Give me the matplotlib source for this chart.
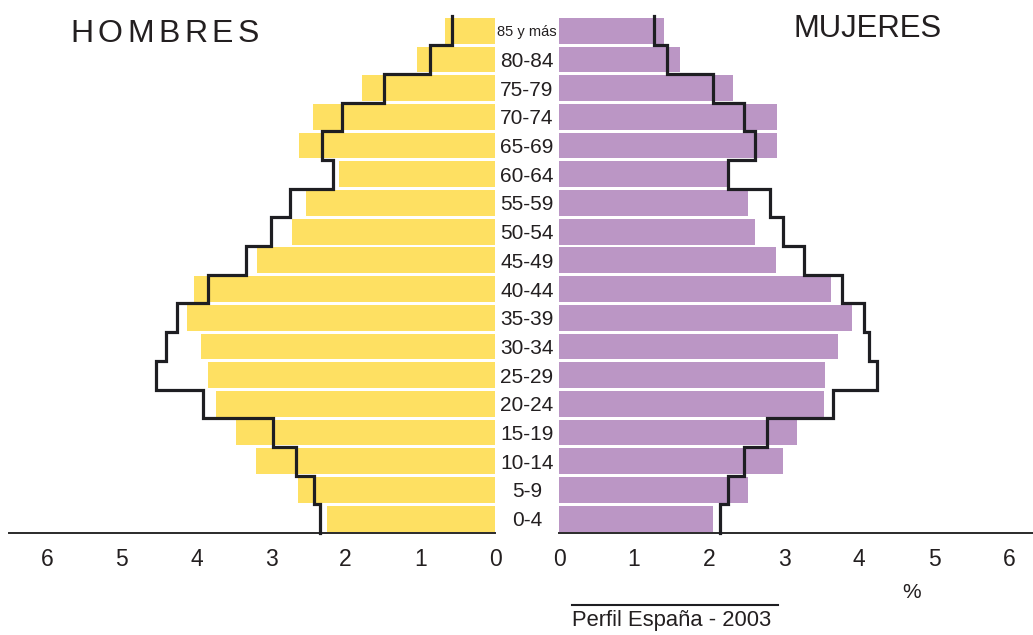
import matplotlib.pyplot as plt
from matplotlib.lines import Line2D
import numpy as np
from matplotlib import font_manager

plt.rcParams['font.family'] = ['Liberation Sans', 'DejaVu Sans']

# grupos de edad, de abajo arriba
grupos = ["0-4", "5-9", "10-14", "15-19", "20-24", "25-29", "30-34", "35-39", "40-44",
          "45-49", "50-54", "55-59", "60-64", "65-69", "70-74", "75-79", "80-84", "85 y más"]

# barras (%)
hombres = [2.25, 2.64, 3.20, 3.47, 3.73, 3.84, 3.94, 4.12, 4.03,
           3.19, 2.72, 2.53, 2.09, 2.62, 2.44, 1.78, 1.04, 0.67]
mujeres = [2.05, 2.52, 2.99, 3.17, 3.53, 3.55, 3.72, 3.91, 3.63,
           2.89, 2.61, 2.52, 2.24, 2.91, 2.91, 2.32, 1.61, 1.40]

# perfil España 2003 (linea escalonada)
esp_hombres = [2.34, 2.42, 2.66, 2.97, 3.91, 4.54, 4.41, 4.26, 3.85,
               3.33, 3.00, 2.75, 2.17, 2.32, 2.05, 1.49, 0.87, 0.57]
esp_mujeres = [2.15, 2.25, 2.46, 2.77, 3.65, 4.24, 4.13, 4.07, 3.77,
               3.27, 2.99, 2.81, 2.25, 2.61, 2.47, 2.05, 1.44, 1.26]

ticks = [0, 1, 2, 3, 4, 5, 6]

AMARILLO = "#fee062"
MORADO = "#bb96c5"
NEGRO = "#1e1e22"
TEXTO = "#231f20"

W, H = 1033, 635
fig = plt.figure(figsize=(W / 100, H / 100), dpi=100)

y0 = (H - 533) / H
hgt = 516.6 / H
ax_h = fig.add_axes([9 / W, y0, 486 / W, hgt])
ax_m = fig.add_axes([559 / W, y0, 474 / W, hgt])

pos = np.arange(len(grupos))

ax_h.barh(pos, hombres, height=0.9, color=AMARILLO, linewidth=0)
ax_m.barh(pos, mujeres, height=0.9, color=MORADO, linewidth=0)

def escalon(vals):
    xs = np.repeat(vals, 2)
    ys = np.ravel([[i - 0.5, i + 0.5] for i in range(len(vals))])
    return xs, ys

for ax, serie in [(ax_h, esp_hombres), (ax_m, esp_mujeres)]:
    xs, ys = escalon(serie)
    ax.plot(xs, ys, color=NEGRO, lw=2.3, solid_joinstyle="miter", clip_on=False, zorder=3)

ax_h.set_xlim(486 / 74.67, 0)
ax_m.set_xlim(0, 474 / 75.0)

for ax in (ax_h, ax_m):
    ax.set_ylim(-0.5, len(grupos) - 0.5)
    for s in ("top", "left", "right"):
        ax.spines[s].set_visible(False)
    ax.spines["bottom"].set_color("#2a2a2a")
    ax.spines["bottom"].set_linewidth(1.4)
    ax.set_xticks(ticks)
    ax.set_xticklabels([str(t) for t in ticks])
    ax.tick_params(axis="x", length=0, pad=11, labelsize=16.5, labelcolor=TEXTO)

ax_h.set_yticks([])
ax_m.set_yticks(pos)
ax_m.set_yticklabels(grupos)
ax_m.tick_params(axis="y", length=0, pad=23, labelsize=15, labelcolor=TEXTO)
narrow = [f.name for f in font_manager.fontManager.ttflist if f.name == "Liberation Sans Narrow"]
for lab in ax_m.get_yticklabels():
    lab.set_horizontalalignment("center")
    if lab.get_text() == "85 y más":
        if narrow:
            lab.set_family(["Liberation Sans Narrow", "DejaVu Sans"])
            lab.set_fontsize(13.5)
        else:
            lab.set_fontsize(10.5)

# titulos
renderer = fig.canvas.get_renderer()
x = 70 / W
for ch in "HOMBRES":
    t = fig.text(x, (H - 42) / H, ch, fontsize=23, color=TEXTO, va="baseline", ha="left")
    bb = t.get_window_extent(renderer)
    x += (bb.width + 4.5) / W

fig.text(793 / W, (H - 37) / H, "MUJERES", fontsize=22.4, color=TEXTO, va="baseline", ha="left")

fig.text(912 / W, (H - 592) / H, "%", fontsize=15, color=TEXTO, ha="center", va="center")

fig.add_artist(Line2D([572 / W, 778 / W], [(H - 605) / H] * 2, color=NEGRO, lw=1.5))
fig.text(572 / W, (H - 626) / H, "Perfil España - 2003", fontsize=15.8, color=TEXTO,
         ha="left", va="baseline")

fig.savefig("out.png", dpi=100)
